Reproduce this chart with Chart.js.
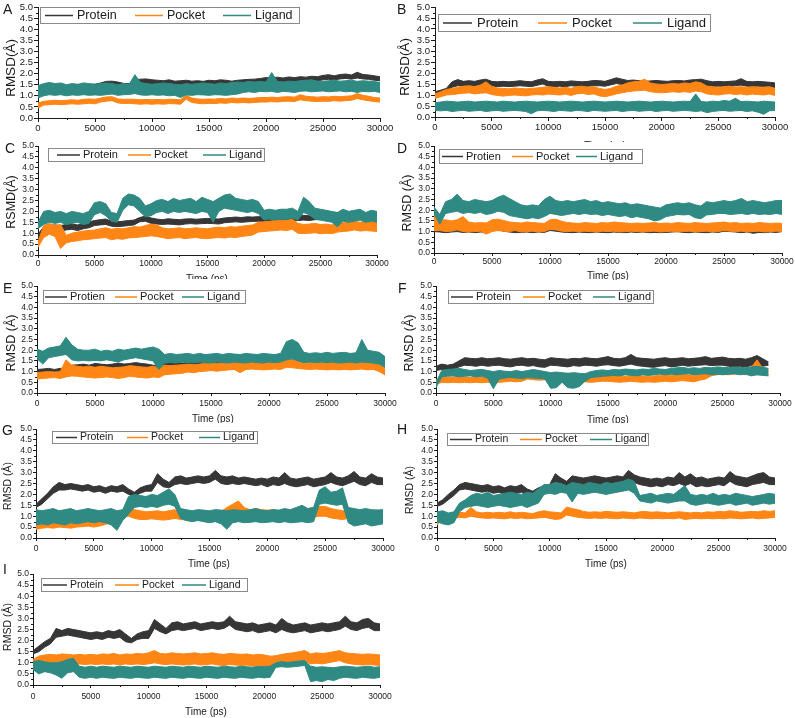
<!DOCTYPE html>
<html><head><meta charset="utf-8">
<script src="https://cdn.jsdelivr.net/npm/chart.js@4.4.0/dist/chart.umd.min.js"></script>
<style>
html,body{margin:0;padding:0;background:#fff;width:795px;height:718px;overflow:hidden;position:relative;}
canvas{position:absolute;}
</style></head><body>
<script>
// ---- data: upper / lower edge of each RMSD trace, read every TIME_STEP ps ----
const TIME_STEP = 500;
const X_TICKS = [0,5000,10000,15000,20000,25000,30000];
const Y_TICKS = [0,0.5,1,1.5,2,2.5,3,3.5,4,4.5,5];
const X_MINOR = [2500,7500,12500,17500,22500,27500];
const Y_MINOR = [0.25,0.75,1.25,1.75,2.25,2.75,3.25,3.75,4.25,4.75];
const SERIES = ['Protein','Pocket','Ligand'];

// Panel A
const A_PROTEIN_HI = [1.35,1.45,1.48,1.45,1.50,1.47,1.50,1.48,1.52,1.50, 1.52,1.58,1.65,1.66,1.62,1.56,1.55,1.72,1.75,1.76, 1.72,1.70,1.68,1.72,1.66,1.68,1.70,1.66,1.68,1.65, 1.70,1.68,1.72,1.70,1.66,1.70,1.72,1.74,1.75,1.78, 1.82,1.80,1.84,1.80,1.85,1.82,1.86,1.84,1.88,1.86, 1.92,1.95,1.90,1.96,1.98,1.94,2.06,1.96,1.94,1.90,1.86];
const A_PROTEIN_LO = [1.15,1.25,1.28,1.25,1.30,1.27,1.30,1.28,1.30,1.32, 1.35,1.40,1.48,1.46,1.42,1.36,1.38,1.50,1.55,1.56, 1.50,1.48,1.46,1.50,1.44,1.46,1.48,1.45,1.46,1.44, 1.48,1.46,1.50,1.48,1.45,1.50,1.52,1.54,1.55,1.58, 1.60,1.58,1.62,1.60,1.64,1.62,1.66,1.64,1.68,1.66, 1.72,1.74,1.72,1.76,1.78,1.75,1.80,1.76,1.74,1.70,1.68];
const A_POCKET_HI = [0.68,0.75,0.78,0.80,0.78,0.80,0.82,0.80,0.84,0.86, 0.84,0.90,0.95,0.96,0.86,0.84,0.85,0.84,0.82,0.84, 0.82,0.84,0.82,0.85,0.84,0.82,1.02,0.90,0.86,0.84, 0.86,0.85,0.88,0.86,0.90,0.88,0.90,0.88,0.90,0.92, 0.92,0.94,0.92,0.95,0.96,0.94,1.05,0.98,0.96,0.94, 0.96,0.95,0.98,0.96,0.98,1.00,1.10,1.02,0.98,0.92,0.90];
const A_POCKET_LO = [0.45,0.58,0.60,0.62,0.60,0.62,0.64,0.62,0.64,0.66, 0.64,0.72,0.76,0.78,0.68,0.65,0.66,0.64,0.62,0.64, 0.62,0.64,0.62,0.65,0.64,0.62,0.85,0.70,0.66,0.64, 0.66,0.65,0.68,0.66,0.70,0.68,0.70,0.68,0.70,0.72, 0.72,0.74,0.72,0.75,0.76,0.74,0.82,0.78,0.76,0.74, 0.76,0.75,0.78,0.76,0.78,0.80,0.88,0.82,0.78,0.74,0.72];
const A_LIGAND_HI = [1.45,1.55,1.60,1.55,1.58,1.50,1.55,1.52,1.58,1.55, 1.52,1.55,1.58,1.55,1.50,1.55,1.52,1.95,1.60,1.55, 1.52,1.55,1.58,1.55,1.52,1.50,1.55,1.52,1.55,1.58, 1.55,1.52,1.58,1.55,1.60,1.62,1.60,1.65,1.62,1.65, 1.62,2.05,1.65,1.62,1.66,1.64,1.68,1.70,1.72,1.66, 1.65,1.68,1.70,1.66,1.68,1.70,1.65,1.68,1.66,1.64,1.60];
const A_LIGAND_LO = [0.90,1.00,1.05,1.02,1.05,1.00,1.04,1.02,1.05,1.02, 1.04,1.02,1.05,1.08,1.02,1.05,1.06,1.10,1.04,1.02, 1.05,1.02,1.04,1.00,1.02,0.92,1.04,1.02,1.05,1.04, 1.02,1.05,1.04,1.02,1.05,1.08,1.15,1.18,1.15,1.20, 1.18,1.20,1.15,1.20,1.18,1.15,1.20,1.22,1.18,1.20, 1.22,1.18,1.20,1.22,1.18,1.20,1.15,1.20,1.18,1.20,1.15];

// Panel B
const B_PROTEIN_HI = [1.15,1.22,1.30,1.60,1.70,1.62,1.65,1.62,1.68,1.72, 1.62,1.60,1.62,1.60,1.62,1.65,1.62,1.60,1.68,1.74, 1.62,1.60,1.62,1.60,1.64,1.62,1.60,1.62,1.66,1.65, 1.62,1.70,1.78,1.72,1.66,1.68,1.65,1.62,1.64,1.66, 1.64,1.62,1.65,1.66,1.64,1.68,1.70,1.72,1.65,1.60, 1.62,1.60,1.62,1.64,1.74,1.62,1.60,1.62,1.60,1.58,1.55];
const B_PROTEIN_LO = [1.00,1.08,1.15,1.35,1.42,1.40,1.42,1.40,1.45,1.48, 1.40,1.38,1.40,1.38,1.40,1.42,1.40,1.38,1.44,1.50, 1.40,1.38,1.40,1.38,1.42,1.40,1.38,1.40,1.42,1.42, 1.40,1.46,1.52,1.48,1.44,1.45,1.42,1.40,1.42,1.44, 1.42,1.40,1.42,1.44,1.42,1.45,1.46,1.48,1.42,1.38, 1.40,1.38,1.40,1.42,1.45,1.40,1.38,1.40,1.38,1.36,1.34];
const B_POCKET_HI = [1.05,1.15,1.25,1.30,1.35,1.40,1.42,1.38,1.45,1.60, 1.40,1.32,1.30,1.28,1.32,1.30,1.28,1.30,1.32,1.35, 1.38,1.35,1.32,1.35,1.30,1.38,1.40,1.35,1.38,1.30, 1.25,1.30,1.40,1.45,1.55,1.60,1.62,1.72,1.55,1.50, 1.48,1.50,1.52,1.50,1.55,1.52,1.60,1.55,1.40,1.38, 1.35,1.38,1.40,1.36,1.38,1.35,1.38,1.36,1.35,1.38,1.30];
const B_POCKET_LO = [0.85,0.92,1.00,1.02,1.05,1.08,1.10,1.05,1.08,1.10, 1.02,0.98,0.95,0.98,1.00,0.98,0.96,1.00,1.02,1.00, 1.04,1.02,1.00,1.04,0.98,1.05,1.08,1.02,1.05,0.96, 0.92,0.98,1.05,1.10,1.15,1.18,1.20,1.22,1.15,1.12, 1.10,1.12,1.15,1.12,1.15,1.12,1.18,1.15,1.05,1.02, 1.00,1.04,1.06,1.02,1.05,1.00,1.04,1.02,1.00,1.04,0.98];
const B_LIGAND_HI = [0.65,0.68,0.72,0.70,0.68,0.70,0.72,0.68,0.70,0.72, 0.70,0.68,0.72,0.70,0.68,0.70,0.72,0.70,0.68,0.70, 0.72,0.70,0.68,0.70,0.72,0.70,0.68,0.70,0.72,0.70, 0.68,0.70,0.72,0.70,0.68,0.70,0.72,0.70,0.68,0.70, 0.72,0.70,0.68,0.70,0.72,0.70,1.05,0.70,0.68,0.72, 0.70,0.75,0.72,0.85,0.70,0.72,0.70,0.68,0.72,0.70,0.68];
const B_LIGAND_LO = [0.30,0.28,0.30,0.25,0.28,0.30,0.26,0.28,0.30,0.25, 0.28,0.30,0.26,0.28,0.30,0.28,0.25,0.15,0.28,0.30, 0.28,0.25,0.30,0.28,0.26,0.30,0.28,0.25,0.30,0.28, 0.26,0.28,0.30,0.25,0.28,0.30,0.26,0.28,0.30,0.25, 0.28,0.30,0.26,0.28,0.30,0.28,0.25,0.28,0.20,0.25, 0.28,0.30,0.26,0.28,0.30,0.25,0.28,0.22,0.12,0.28,0.30];

// Panel C
const C_PROTEIN_HI = [0.95,1.30,1.35,1.38,1.35,1.40,1.42,1.38,1.45,1.52, 1.58,1.62,1.65,1.55,1.52,1.55,1.58,1.60,1.72,1.78, 1.70,1.65,1.62,1.66,1.64,1.62,1.65,1.66,1.64,1.66, 1.68,1.66,1.65,1.70,1.72,1.74,1.72,1.75,1.74,1.76, 1.75,1.78,1.80,1.78,1.80,1.78,1.80,1.82,1.80,1.82, 1.85,1.84,1.90,1.95,1.92,1.98,1.94,1.96,1.92,1.95,1.95];
const C_PROTEIN_LO = [0.75,1.00,1.10,1.12,1.10,1.15,1.18,1.12,1.20,1.25, 1.35,1.38,1.40,1.32,1.30,1.32,1.35,1.38,1.52,1.55, 1.45,1.42,1.40,1.42,1.40,1.38,1.42,1.44,1.42,1.44, 1.45,1.44,1.42,1.48,1.50,1.52,1.50,1.52,1.54,1.55, 1.54,1.56,1.58,1.56,1.58,1.56,1.58,1.60,1.58,1.62, 1.62,1.64,1.72,1.75,1.72,1.78,1.74,1.76,1.72,1.75,1.74];
const C_POCKET_HI = [0.60,1.35,1.45,1.35,1.40,0.90,1.00,1.05,1.10,1.12, 1.15,1.20,1.25,1.18,1.22,1.20,1.25,1.30,1.28,1.35, 1.42,1.38,1.25,1.20,1.22,1.25,1.20,1.22,1.25,1.22, 1.20,1.25,1.28,1.25,1.30,1.28,1.32,1.35,1.38,1.50, 1.52,1.55,1.58,1.60,1.58,1.65,1.45,1.40,1.42,1.45, 1.40,1.42,1.38,1.45,1.48,1.52,1.55,1.50,1.55,1.52,1.50];
const C_POCKET_LO = [0.35,0.80,0.95,0.85,0.30,0.55,0.62,0.65,0.70,0.72, 0.75,0.78,0.80,0.70,0.75,0.72,0.78,0.80,0.82,0.85, 0.88,0.85,0.80,0.75,0.78,0.80,0.75,0.78,0.80,0.76, 0.75,0.78,0.80,0.78,0.82,0.80,0.85,0.88,0.92,1.05, 1.08,1.10,1.12,1.15,1.12,1.18,1.00,0.98,1.00,1.02, 0.98,1.00,0.98,1.05,1.08,1.10,1.15,1.10,1.12,1.10,1.08];
const C_LIGAND_HI = [1.50,2.00,2.05,1.95,2.00,1.90,2.00,1.95,1.90,2.00, 2.40,2.45,2.35,1.95,1.90,2.60,2.80,2.75,2.60,2.25, 2.35,2.50,2.55,2.45,2.60,2.50,2.55,2.60,2.45,2.65, 2.55,2.45,2.60,2.75,2.80,2.60,2.55,2.50,2.55,2.45, 2.05,2.10,2.05,2.10,2.10,2.15,2.00,2.65,2.45,2.15, 2.10,2.05,2.00,1.95,2.10,2.00,2.05,2.10,1.95,2.05,2.00];
const C_LIGAND_LO = [1.20,1.40,1.50,1.45,1.50,1.40,1.45,1.50,1.40,1.45, 1.85,1.95,1.80,1.55,1.50,2.05,2.30,2.25,2.00,1.75, 1.80,1.95,2.00,1.90,2.00,1.95,2.00,1.95,1.90,2.00, 1.95,1.50,2.00,2.15,2.10,2.05,2.00,1.95,2.00,1.90, 1.60,1.65,1.60,1.65,1.62,1.70,1.60,1.95,1.85,1.65, 1.60,1.55,1.50,1.30,1.55,1.50,1.55,1.60,1.50,1.55,1.50];

// Panel D
const D_PROTEIN_HI = [1.40,1.20,1.22,1.20,1.22,1.20,1.18,1.20,1.22,1.20, 1.30,1.32,1.28,1.22,1.20,1.18,1.20,1.18,1.20,1.22, 1.28,1.25,1.20,1.18,1.20,1.18,1.20,1.18,1.20,1.18, 1.20,1.18,1.20,1.18,1.20,1.22,1.20,1.18,1.20,1.18, 1.20,1.18,1.22,1.20,1.18,1.20,1.18,1.20,1.18,1.20, 1.25,1.22,1.20,1.18,1.20,1.18,1.20,1.18,1.20,1.18,1.18];
const D_PROTEIN_LO = [1.00,0.98,0.95,0.98,1.00,0.96,0.98,0.95,0.98,0.96, 1.05,1.08,1.02,0.98,0.95,0.96,0.98,0.95,0.98,0.96, 1.05,1.02,0.98,0.96,0.95,0.98,0.96,0.95,0.98,0.96, 0.95,0.98,0.96,0.95,0.98,0.96,0.98,0.95,0.96,0.95, 0.96,0.98,1.00,0.96,0.95,0.98,0.96,0.95,0.98,0.96, 1.02,1.00,0.98,0.95,0.98,0.92,0.96,0.95,0.98,0.96,1.00];
const D_POCKET_HI = [1.75,1.55,1.55,1.50,1.55,1.70,1.45,1.40,1.42,1.40, 1.55,1.58,1.52,1.45,1.42,1.40,1.45,1.42,1.40,1.38, 1.55,1.58,1.48,1.42,1.40,1.38,1.42,1.40,1.38,1.42, 1.40,1.45,1.42,1.40,1.38,1.40,1.38,1.40,1.42,1.38, 1.40,1.38,1.42,1.40,1.38,1.42,1.40,1.38,1.40,1.42, 1.45,1.40,1.42,1.38,1.40,1.38,1.42,1.40,1.38,1.40,1.38];
const D_POCKET_LO = [1.05,1.05,1.00,1.02,1.08,1.00,0.98,1.00,1.02,0.88, 1.00,1.05,1.02,1.00,1.05,0.98,1.00,1.02,0.98,1.00, 1.10,1.08,1.02,1.00,1.02,1.00,1.02,1.00,0.98,1.02, 1.00,1.02,0.98,1.00,1.02,1.00,0.98,1.00,1.02,0.98, 1.00,1.02,0.98,1.00,1.02,0.98,1.00,1.02,0.98,1.00, 1.05,1.02,1.00,1.02,0.98,1.00,1.02,0.98,1.00,1.02,1.00];
const D_LIGAND_HI = [2.15,1.80,2.40,2.50,2.75,2.45,2.40,2.50,2.45,2.40, 2.45,2.60,2.70,2.55,2.40,2.25,2.20,2.25,2.20,2.50, 2.65,2.45,2.40,2.45,2.40,2.45,2.50,2.40,2.45,2.35, 2.40,2.35,2.30,2.35,2.25,2.30,2.25,2.20,2.15,2.10, 2.25,2.30,2.35,2.30,2.35,2.25,2.20,2.40,2.35,2.40, 2.45,2.40,2.45,2.55,2.40,2.45,2.40,2.35,2.40,2.45,2.45];
const D_LIGAND_LO = [1.85,1.35,1.85,1.90,1.95,1.85,1.90,1.85,1.90,1.80, 1.85,1.95,1.90,1.75,1.70,1.65,1.60,1.65,1.60,1.70, 1.85,1.80,1.75,1.80,1.85,1.80,1.85,1.80,1.82,1.75, 1.80,1.75,1.70,1.75,1.65,1.70,1.65,1.60,1.50,1.55, 1.70,1.75,1.80,1.78,1.80,1.65,1.60,1.78,1.80,1.85, 1.85,1.80,1.82,1.85,1.80,1.85,1.80,1.82,1.80,1.85,1.80];

// Panel E
const E_PROTEIN_HI = [1.10,1.12,1.15,1.10,1.15,1.15,1.30,1.32,1.35,1.30, 1.38,1.35,1.32,1.35,1.40,1.35,1.38,1.42,1.38,1.35, 1.30,1.28,1.40,1.42,1.45,1.40,1.42,1.45,1.42,1.45, 1.45,1.48,1.45,1.50,1.48,1.50,1.45,1.50,1.52,1.48, 1.50,1.52,1.55,1.58,1.55,1.52,1.50,1.55,1.52,1.50, 1.52,1.50,1.55,1.50,1.48,1.52,1.55,1.60,1.50,1.45,1.35];
const E_PROTEIN_LO = [0.92,0.95,0.98,0.95,0.98,1.00,1.10,1.12,1.15,1.10, 1.15,1.12,1.10,1.12,1.18,1.12,1.15,1.20,1.15,1.12, 1.08,1.05,1.15,1.18,1.20,1.18,1.20,1.22,1.20,1.22, 1.22,1.25,1.22,1.28,1.25,1.28,1.22,1.28,1.30,1.25, 1.28,1.30,1.32,1.35,1.32,1.30,1.28,1.32,1.30,1.28, 1.30,1.28,1.32,1.28,1.25,1.30,1.32,1.35,1.28,1.22,1.10];
const E_POCKET_HI = [0.95,0.98,1.00,0.98,1.00,1.55,1.30,1.25,1.22,1.25, 1.20,1.25,1.22,1.18,1.20,1.22,1.28,1.25,1.22,1.20, 1.25,1.18,1.30,1.28,1.30,1.32,1.35,1.32,1.35,1.38, 1.40,1.38,1.40,1.42,1.45,1.42,1.48,1.45,1.45,1.42, 1.45,1.48,1.45,1.60,1.55,1.50,1.48,1.45,1.48,1.45, 1.42,1.45,1.40,1.45,1.42,1.45,1.48,1.42,1.45,1.40,1.30];
const E_POCKET_LO = [0.65,0.68,0.70,0.72,0.68,0.75,0.80,0.78,0.75,0.72, 0.70,0.72,0.75,0.72,0.68,0.72,0.78,0.75,0.72,0.70, 0.75,0.72,0.85,0.88,0.90,0.92,0.98,0.95,1.00,1.02, 1.05,1.02,1.05,1.08,1.10,0.95,1.10,1.12,1.10,1.08, 1.10,1.12,1.10,1.20,1.18,1.15,1.12,1.10,1.12,1.10, 1.08,1.10,1.08,1.10,1.08,1.10,1.12,1.08,1.10,1.00,0.85];
const E_LIGAND_HI = [2.05,1.95,2.10,2.15,2.20,2.60,2.25,2.05,2.00,2.00, 2.05,1.95,2.00,1.95,2.05,2.00,2.05,2.10,2.05,2.10, 2.15,2.05,1.80,1.85,1.80,1.82,1.85,1.80,1.85,1.80, 1.82,1.85,1.80,1.85,1.82,1.80,1.85,1.82,1.80,1.85, 1.82,1.80,1.85,2.40,2.50,2.35,1.90,1.85,1.88,1.85, 1.90,1.85,1.88,1.90,1.85,1.88,2.50,2.00,1.95,1.90,1.70];
const E_LIGAND_LO = [1.60,1.35,1.65,1.70,1.75,1.80,1.55,1.50,1.52,1.50, 1.52,1.50,1.55,1.50,1.45,1.55,1.60,1.65,1.60,1.55, 1.50,1.10,1.40,1.42,1.40,1.45,1.42,1.40,1.45,1.42, 1.40,1.45,1.42,1.40,1.45,1.42,1.40,1.45,1.42,1.40, 1.45,1.42,1.45,1.55,1.60,1.50,1.42,1.45,1.42,1.45, 1.42,1.45,1.40,1.42,1.45,1.40,1.45,1.42,1.40,1.35,1.20];

// Panel F (trajectory ends near 29000 ps)
const F_PROTEIN_HI = [1.25,1.35,1.30,1.35,1.50,1.65,1.62,1.60,1.65,1.60, 1.62,1.65,1.60,1.58,1.62,1.65,1.60,1.62,1.58,1.55, 1.65,1.62,1.60,1.58,1.62,1.60,1.65,1.62,1.60,1.65, 1.70,1.62,1.60,1.65,1.80,1.65,1.62,1.60,1.58,1.62, 1.65,1.60,1.62,1.65,1.60,1.62,1.65,1.70,1.62,1.65, 1.68,1.62,1.60,1.62,1.58,1.65,1.75,1.60,1.45];
const F_PROTEIN_LO = [1.05,1.10,1.08,1.10,1.22,1.30,1.28,1.25,1.30,1.25, 1.28,1.30,1.25,1.22,1.28,1.30,1.25,1.28,1.22,1.20, 1.30,1.28,1.25,1.22,1.28,1.25,1.30,1.28,1.25,1.30, 1.32,1.28,1.25,1.30,1.35,1.28,1.25,1.22,1.20,1.25, 1.28,1.22,1.25,1.30,1.25,1.28,1.30,1.32,1.28,1.30, 1.30,1.25,1.22,1.25,1.22,1.28,1.30,1.25,1.30];
const F_POCKET_HI = [0.60,0.75,0.72,0.75,0.72,0.75,0.72,0.75,0.72,0.75, 0.72,0.75,0.78,0.80,0.78,0.80,0.95,0.90,0.85,0.88, 0.85,0.88,0.90,0.92,0.88,0.82,0.80,0.78,0.80,0.82, 0.85,0.82,0.80,0.78,0.80,0.82,0.80,0.78,0.80,0.82, 0.85,0.82,0.85,0.88,0.85,0.82,0.90,0.95,1.05,1.15, 1.15,1.18,1.15,1.20,1.15,1.20,1.55,1.15,1.05];
const F_POCKET_LO = [0.40,0.50,0.48,0.50,0.48,0.50,0.48,0.50,0.48,0.50, 0.48,0.50,0.52,0.55,0.52,0.55,0.65,0.62,0.60,0.62, 0.60,0.62,0.65,0.62,0.60,0.55,0.52,0.50,0.52,0.55, 0.55,0.52,0.50,0.52,0.55,0.52,0.50,0.52,0.50,0.52, 0.55,0.52,0.55,0.58,0.55,0.52,0.60,0.65,0.80,0.85, 0.88,0.85,0.88,0.90,0.85,0.90,0.85,0.88,0.85];
const F_LIGAND_HI = [0.50,1.05,1.10,1.12,1.15,1.10,1.05,1.08,1.10,1.05, 1.00,1.05,1.02,1.00,1.05,1.00,1.05,1.10,1.05,1.00, 0.95,0.98,0.95,0.92,0.95,0.92,0.90,1.00,1.05,1.08, 1.05,1.10,1.08,1.12,1.10,1.08,1.12,1.10,1.15,1.12, 1.10,1.15,1.18,1.20,1.15,1.18,1.15,1.20,1.18,1.22, 1.20,1.18,1.22,1.20,1.18,1.22,1.25,1.20,1.15];
const F_LIGAND_LO = [0.25,0.75,0.78,0.80,0.75,0.78,0.80,0.75,0.78,0.70, 0.20,0.65,0.70,0.72,0.70,0.68,0.72,0.70,0.68,0.65, 0.22,0.25,0.50,0.25,0.22,0.30,0.55,0.72,0.75,0.78, 0.80,0.82,0.80,0.85,0.82,0.80,0.85,0.82,0.85,0.88, 0.85,0.88,0.85,0.88,0.90,0.85,0.88,0.90,0.85,0.88, 0.85,0.88,0.90,0.85,0.88,0.80,0.85,0.82,0.80];

// Panel G
const G_PROTEIN_HI = [1.55,1.80,2.05,2.35,2.55,2.45,2.50,2.45,2.40,2.45, 2.35,2.40,2.30,2.40,2.35,2.45,2.25,2.10,2.30,2.40, 2.45,2.95,2.70,2.55,2.80,2.85,2.75,2.80,2.85,2.80, 2.85,3.10,2.85,2.80,2.85,2.75,2.80,2.75,2.70,2.75, 2.70,2.80,2.75,3.00,2.75,2.70,2.75,2.80,2.70,2.75, 2.80,3.00,2.80,2.75,2.85,3.05,2.80,2.75,2.95,2.80,2.75];
const G_PROTEIN_LO = [1.40,1.55,1.80,2.05,2.20,2.20,2.25,2.20,2.15,2.20, 2.10,2.15,2.05,2.15,2.10,2.15,2.00,1.90,2.05,2.15, 2.15,2.55,2.35,2.30,2.45,2.50,2.45,2.50,2.55,2.50, 2.55,2.70,2.50,2.45,2.50,2.45,2.50,2.45,2.40,2.45, 2.35,2.45,2.40,2.50,2.40,2.35,2.40,2.45,2.35,2.40, 2.45,2.55,2.45,2.40,2.50,2.60,2.45,2.40,2.55,2.45,2.45];
const G_POCKET_HI = [0.65,0.75,0.72,0.70,0.75,0.72,0.70,0.75,0.78,0.80, 0.75,0.80,0.88,0.95,1.20,1.30,1.50,1.30,1.25,1.20, 1.22,1.25,1.20,1.25,1.30,1.15,1.20,1.22,1.20,1.18, 1.20,1.25,1.22,1.40,1.55,1.70,1.40,1.30,1.35,1.30, 1.28,1.30,1.25,1.30,1.28,1.32,1.30,1.35,1.40,1.45, 1.45,1.35,1.30,1.25,1.30,1.28,1.25,1.30,1.25,1.28,1.25];
const G_POCKET_LO = [0.40,0.45,0.48,0.45,0.50,0.48,0.45,0.50,0.52,0.55, 0.50,0.55,0.62,0.70,0.90,0.95,1.00,0.90,0.85,0.85, 0.88,0.85,0.82,0.85,0.90,0.85,0.82,0.85,0.82,0.80, 0.82,0.85,0.82,0.95,1.00,1.05,0.95,0.90,0.92,0.90, 0.88,0.92,0.90,0.92,0.90,0.95,0.92,0.95,0.95,1.00, 1.00,0.92,0.88,0.85,0.90,0.88,0.85,0.90,0.85,0.88,0.85];
const G_LIGAND_HI = [1.30,1.25,1.30,1.35,1.25,1.30,1.35,1.25,1.30,1.35, 1.30,1.25,1.30,1.35,1.25,1.30,1.90,2.00,1.95,1.90, 2.00,1.95,2.10,2.25,2.00,1.35,1.30,1.25,1.30,1.28, 1.25,1.30,1.28,1.25,1.30,1.28,1.25,1.30,1.35,1.28, 1.25,1.30,1.28,1.35,1.30,1.40,1.50,1.35,1.40,2.20, 2.35,2.10,2.15,2.30,1.40,1.35,1.30,1.35,1.30,1.28,1.30];
const G_LIGAND_LO = [0.60,0.65,0.60,0.70,0.65,0.60,0.70,0.65,0.70,0.75, 0.70,0.75,0.70,0.60,0.35,0.80,1.10,1.40,1.45,1.40, 1.45,1.40,1.50,1.55,1.45,0.90,0.80,0.75,0.80,0.75, 0.70,0.75,0.65,0.40,0.70,0.75,0.70,0.72,0.75,0.70, 0.72,0.75,0.70,0.75,0.70,0.72,0.75,0.70,0.75,1.55, 1.60,1.55,1.50,1.55,0.70,0.55,0.60,0.65,0.55,0.60,0.65];

// Panel H
const H_PROTEIN_HI = [1.60,1.75,2.00,2.20,2.45,2.55,2.50,2.45,2.40,2.45, 2.35,2.40,2.30,2.40,2.35,2.45,2.25,2.15,2.30,2.40, 2.45,2.95,2.75,2.60,2.85,2.80,2.75,2.80,2.85,2.80, 2.75,2.80,2.85,2.80,3.10,2.90,2.80,2.75,2.70,2.75, 2.70,2.80,2.75,3.00,2.80,2.95,2.75,2.80,2.70,2.75, 2.80,2.75,3.05,2.85,2.80,2.75,2.85,2.95,3.00,2.80,2.75];
const H_PROTEIN_LO = [1.45,1.55,1.75,1.95,2.20,2.25,2.20,2.15,2.10,2.15, 2.05,2.10,2.00,2.10,2.05,2.10,1.95,1.90,2.00,2.10, 2.15,2.55,2.40,2.30,2.45,2.45,2.40,2.45,2.50,2.45, 2.40,2.45,2.50,2.55,2.70,2.55,2.45,2.40,2.35,2.40, 2.35,2.45,2.40,2.50,2.40,2.50,2.35,2.40,2.35,2.40, 2.45,2.40,2.60,2.45,2.40,2.35,2.45,2.50,2.55,2.45,2.45];
const H_POCKET_HI = [1.00,1.05,1.10,1.15,1.18,1.15,1.40,1.20,1.15,1.18, 1.15,1.18,1.15,1.20,1.15,1.18,1.15,1.12,1.20,1.25, 1.20,1.18,1.15,1.42,1.35,1.30,1.22,1.18,1.20,1.18, 1.22,1.20,1.18,1.20,1.18,1.15,1.20,1.22,1.18,1.20, 1.18,1.15,1.18,1.20,1.18,1.15,1.18,1.15,1.20,1.18, 1.22,1.20,1.25,1.22,1.18,1.20,1.22,1.20,1.25,1.22,1.25];
const H_POCKET_LO = [0.60,0.85,0.88,0.90,0.95,0.92,1.00,0.95,0.92,0.90, 0.92,0.90,0.88,0.92,0.90,0.92,0.88,0.90,0.92,0.95, 0.90,0.85,0.88,1.05,1.00,0.95,0.92,0.90,0.92,0.90, 0.92,0.90,0.88,0.92,0.90,0.88,0.92,0.90,0.88,0.90, 0.88,0.90,0.88,0.92,0.85,0.88,0.90,0.88,0.90,0.88, 0.90,0.88,0.92,0.90,0.88,0.90,0.92,0.88,0.90,0.92,0.95];
const H_LIGAND_HI = [1.20,1.25,1.15,1.20,1.60,1.75,1.95,2.05,2.00,2.10, 1.95,2.00,2.05,2.10,2.05,2.00,2.10,2.05,2.25,2.45, 2.45,2.55,2.50,2.40,2.55,2.50,2.45,2.55,2.50,2.45, 2.55,2.50,2.55,2.60,2.70,2.60,1.95,2.00,2.05,1.95, 2.00,2.05,2.00,2.20,2.40,2.00,1.95,2.00,1.95,2.05, 1.95,2.00,1.95,2.05,2.00,1.95,1.90,1.95,2.00,2.05,2.00];
const H_LIGAND_LO = [0.75,0.65,0.60,0.70,1.20,1.40,1.45,1.50,1.45,1.40, 1.45,1.50,1.45,1.40,1.45,1.50,1.40,1.50,1.60,2.00, 2.05,2.00,2.10,2.05,1.65,2.05,2.00,2.05,2.10,2.05, 2.00,2.05,2.10,2.15,2.20,2.05,1.70,1.65,1.60,1.70, 1.65,1.60,1.65,1.70,1.70,1.55,1.50,1.55,1.60,1.55, 1.50,1.55,1.60,1.50,1.55,1.60,1.50,1.55,1.60,1.55,1.60];

// Panel I
const I_PROTEIN_HI = [1.55,1.75,1.95,2.10,2.55,2.45,2.55,2.50,2.45,2.40, 2.35,2.40,2.35,2.45,2.40,2.50,2.30,2.10,2.30,2.40, 2.45,2.95,2.75,2.55,2.80,2.85,2.75,2.80,2.85,2.75, 2.80,2.85,2.80,2.85,3.10,2.85,2.80,2.75,2.80,2.70, 2.75,2.80,2.70,3.00,2.80,2.70,2.75,2.80,2.70,2.75, 2.80,2.75,2.80,2.85,3.10,2.85,2.80,2.95,3.00,2.80,2.75];
const I_PROTEIN_LO = [1.40,1.50,1.70,1.85,2.15,2.20,2.25,2.20,2.15,2.10, 2.05,2.10,2.05,2.15,2.10,2.15,1.95,1.90,2.05,2.10, 2.10,2.55,2.40,2.30,2.45,2.50,2.45,2.50,2.55,2.45, 2.50,2.55,2.50,2.55,2.70,2.50,2.45,2.40,2.45,2.35, 2.40,2.45,2.35,2.50,2.40,2.35,2.40,2.45,2.35,2.40, 2.45,2.40,2.45,2.50,2.65,2.50,2.45,2.55,2.60,2.45,2.45];
const I_POCKET_HI = [1.15,1.30,1.35,1.38,1.35,1.40,1.38,1.35,1.38,1.35, 1.38,1.35,1.40,1.38,1.42,1.35,1.40,1.38,1.42,1.40, 1.45,1.55,1.42,1.40,1.45,1.42,1.40,1.42,1.45,1.40, 1.42,1.45,1.40,1.38,1.42,1.40,1.38,1.40,1.35,1.38, 1.35,1.30,1.32,1.38,1.42,1.45,1.50,1.55,1.40,1.45, 1.42,1.45,1.50,1.55,1.45,1.42,1.40,1.38,1.40,1.38,1.35];
const I_POCKET_LO = [0.70,0.90,0.92,0.95,0.90,0.95,0.92,0.90,0.95,0.92, 0.95,0.92,0.95,0.92,0.95,0.90,0.95,0.92,0.95,0.92, 0.95,1.00,0.95,0.92,0.95,0.92,0.90,0.92,0.95,0.90, 0.92,0.95,0.90,0.88,0.92,0.90,0.88,0.90,0.85,0.88, 0.85,0.82,0.85,0.95,1.00,1.05,1.08,1.10,0.95,0.98, 0.95,1.00,1.05,1.10,1.00,0.95,0.92,0.90,0.92,0.90,0.88];
const I_LIGAND_HI = [1.05,1.10,1.05,1.00,1.00,1.05,1.15,1.20,0.85,0.80, 0.85,0.80,0.85,0.82,0.80,0.85,0.82,0.80,0.85,0.82, 0.80,0.85,0.82,0.80,0.85,0.82,0.80,0.85,0.82,0.80, 0.85,0.82,0.80,0.85,0.82,0.80,0.85,0.82,0.80,0.85, 0.82,0.85,1.00,1.05,1.02,1.05,1.08,1.10,0.85,0.80, 0.82,0.80,0.78,0.82,0.85,0.82,0.80,0.82,0.85,0.80,0.82];
const I_LIGAND_LO = [0.70,0.50,0.60,0.55,0.45,0.30,0.55,0.60,0.35,0.30, 0.35,0.30,0.35,0.32,0.30,0.35,0.32,0.30,0.35,0.32, 0.30,0.35,0.32,0.30,0.35,0.32,0.30,0.35,0.32,0.30, 0.35,0.32,0.30,0.35,0.32,0.30,0.35,0.32,0.30,0.35, 0.32,0.35,0.80,0.82,0.80,0.82,0.85,0.88,0.15,0.20, 0.15,0.25,0.20,0.30,0.35,0.32,0.30,0.35,0.32,0.30,0.35];

const COLORS = ['#363636','#ff8514','#2e8a83'];
const FONT = "'Liberation Sans', Arial, Helvetica, sans-serif";
const INK = '#1a1a1a';

// ---- layout of the nine panels (page pixels) ----
const PANELS = [
 {letter:'A', lp:[3,14], canvas:[0,0,405,136], plot:[38,7,380,118], tickFs:9.5, tl:4, xPad:1,
  yTitle:'RMSD(Å)', yFs:13.5, yPos:[11,68], xTitle:null,
  labels:['Protein','Pocket','Ligand'],
  hi:[A_PROTEIN_HI,A_POCKET_HI,A_LIGAND_HI], lo:[A_PROTEIN_LO,A_POCKET_LO,A_LIGAND_LO],
  legend:{box:[40,7,259,16], fs:12.5, line:28, gap:4, starts:[45,135,223]}},
 {letter:'B', lp:[397,14], canvas:[395,0,400,142], plot:[435,7,775,117], tickFs:9.5, tl:4, xPad:1,
  yTitle:'RMSD(Å)', yFs:13.5, yPos:[405,67], xTitle:[605,146],
  labels:['Protein','Pocket','Ligand'],
  hi:[B_PROTEIN_HI,B_POCKET_HI,B_LIGAND_HI], lo:[B_PROTEIN_LO,B_POCKET_LO,B_LIGAND_LO],
  legend:{box:[438,14,272,17], fs:13, line:29, gap:5, starts:[443,538,633]}},
 {letter:'C', lp:[5,153], canvas:[0,135,405,144], plot:[38,146,377,255], tickFs:8.5, tl:3, xPad:1,
  yTitle:'RSMD(Å)', yFs:12.5, yPos:[12,202], xTitle:[207,279],
  labels:['Protein','Pocket','Ligand'],
  hi:[C_PROTEIN_HI,C_POCKET_HI,C_LIGAND_HI], lo:[C_PROTEIN_LO,C_POCKET_LO,C_LIGAND_LO],
  legend:{box:[48,148,216,13], fs:11, line:23, gap:3, starts:[57,128,203]}},
 {letter:'D', lp:[397,153], canvas:[395,135,400,145], plot:[434,146,782,253], tickFs:8.5, tl:3, xPad:1,
  yTitle:'RMSD (Å)', yFs:12.5, yPos:[408,203], xTitle:[608,276],
  labels:['Protien','Pocket','Ligand'],
  hi:[D_PROTEIN_HI,D_POCKET_HI,D_LIGAND_HI], lo:[D_PROTEIN_LO,D_POCKET_LO,D_LIGAND_LO],
  legend:{box:[439,149,203,14], fs:11, line:21, gap:3, starts:[442,512,576]}},
 {letter:'E', lp:[3,293], canvas:[0,275,405,148], plot:[37,286,385,393], tickFs:8.5, tl:3, xPad:3,
  yTitle:'RMSD (Å)', yFs:12.5, yPos:[12,343], xTitle:[213,419],
  labels:['Protien','Pocket','Ligand'],
  hi:[E_PROTEIN_HI,E_POCKET_HI,E_LIGAND_HI], lo:[E_PROTEIN_LO,E_POCKET_LO,E_LIGAND_LO],
  legend:{box:[43,290,202,13], fs:11, line:22, gap:3, starts:[45,115,182]}},
 {letter:'F', lp:[398,293], canvas:[395,275,400,148], plot:[436,286,780,393], tickFs:8.5, tl:3, xPad:3,
  yTitle:'RMSD (Å)', yFs:12.5, yPos:[410,343], xTitle:[608,420],
  labels:['Protein','Pocket','Ligand'],
  hi:[F_PROTEIN_HI,F_POCKET_HI,F_LIGAND_HI], lo:[F_PROTEIN_LO,F_POCKET_LO,F_LIGAND_LO],
  legend:{box:[448,290,205,13], fs:11, line:22, gap:3, starts:[451,523,593]}},
 {letter:'G', lp:[2,435], canvas:[0,415,405,155], plot:[36,429,383,538], tickFs:8.5, tl:3, xPad:2.5,
  yTitle:'RMSD (Å)', yFs:10.5, yPos:[8,486], xTitle:[209,564],
  labels:['Protein','Pocket','Ligand'],
  hi:[G_PROTEIN_HI,G_POCKET_HI,G_LIGAND_HI], lo:[G_PROTEIN_LO,G_POCKET_LO,G_LIGAND_LO],
  legend:{box:[52,431,205,12], fs:10.5, line:21, gap:3, starts:[56,127,199]}},
 {letter:'H', lp:[397,434], canvas:[395,415,400,155], plot:[437,429,775,538], tickFs:8.5, tl:3, xPad:2.5,
  yTitle:'RMSD (Å)', yFs:10.5, yPos:[410,490], xTitle:[606,564],
  labels:['Protein','Pocket','Ligand'],
  hi:[H_PROTEIN_HI,H_POCKET_HI,H_LIGAND_HI], lo:[H_PROTEIN_LO,H_POCKET_LO,H_LIGAND_LO],
  legend:{box:[447,433,201,12], fs:10.5, line:22, gap:3, starts:[450,520,590]}},
 {letter:'I', lp:[3,574], canvas:[0,560,405,158], plot:[33,574,380,685], tickFs:8.5, tl:3, xPad:4,
  yTitle:'RMSD (Å)', yFs:10.5, yPos:[8,627], xTitle:[206,712],
  labels:['Protein','Pocket','Ligand'],
  hi:[I_PROTEIN_HI,I_POCKET_HI,I_LIGAND_HI], lo:[I_PROTEIN_LO,I_POCKET_LO,I_LIGAND_LO],
  legend:{box:[41,578,206,13], fs:10.5, line:24, gap:3, starts:[43,115,182]}}
];

const decoPlugin = {
  id:'deco',
  afterDraw(chart){
    const p = chart.options.plugins.deco.panel;
    const ctx = chart.ctx, ox = p.canvas[0], oy = p.canvas[1];
    const xs = chart.scales.x, ys = chart.scales.y, area = chart.chartArea;
    ctx.save();
    ctx.strokeStyle = INK; ctx.lineWidth = 1;
    ctx.beginPath();
    X_MINOR.forEach(v=>{const px=Math.round(xs.getPixelForValue(v))+0.5; ctx.moveTo(px,area.bottom); ctx.lineTo(px,area.bottom+2);});
    Y_MINOR.forEach(v=>{const py=Math.round(ys.getPixelForValue(v))+0.5; ctx.moveTo(area.left,py); ctx.lineTo(area.left-2,py);});
    ctx.stroke();
    ctx.fillStyle = INK;
    ctx.font = `14px ${FONT}`; ctx.textAlign='left'; ctx.textBaseline='alphabetic';
    ctx.fillText(p.letter, p.lp[0]-ox, p.lp[1]-oy);
    ctx.save();
    ctx.translate(p.yPos[0]-ox, p.yPos[1]-oy); ctx.rotate(-Math.PI/2);
    ctx.font = `${p.yFs}px ${FONT}`; ctx.textAlign='center'; ctx.textBaseline='middle';
    ctx.fillText(p.yTitle,0,0);
    ctx.restore();
    if(p.xTitle){
      ctx.font = `10px ${FONT}`; ctx.textAlign='center'; ctx.textBaseline='middle';
      ctx.fillText('Time (ps)', p.xTitle[0]-ox, p.xTitle[1]-oy);
    }
    const lg = p.legend, [bx,by,bw,bh] = lg.box;
    ctx.fillStyle='#fff';
    ctx.fillRect(bx-ox, by-oy, bw, bh);
    ctx.strokeStyle='#8a8a8a'; ctx.lineWidth=1;
    ctx.strokeRect(bx-ox+0.5, by-oy+0.5, bw, bh);
    const cyy = by-oy+bh/2+0.5;
    SERIES.forEach((s,k)=>{
      const sx = lg.starts[k]-ox;
      ctx.strokeStyle = COLORS[k]; ctx.lineWidth = 1.5;
      ctx.beginPath(); ctx.moveTo(sx, cyy); ctx.lineTo(sx+lg.line, cyy); ctx.stroke();
      ctx.fillStyle = INK; ctx.font = `${lg.fs}px ${FONT}`; ctx.textAlign='left'; ctx.textBaseline='middle';
      ctx.fillText(p.labels[k], sx+lg.line+lg.gap, cyy);
    });
    ctx.restore();
  }
};

function toXY(vals){ return vals.map((v,i)=>({x:i*TIME_STEP, y:v})); }

PANELS.forEach(p=>{
  const [cx,cy,cw,ch] = p.canvas, [L,T,R,B] = p.plot;
  const c = document.createElement('canvas');
  c.width=cw; c.height=ch;
  c.style.left=cx+'px'; c.style.top=cy+'px'; c.style.width=cw+'px'; c.style.height=ch+'px';
  document.body.appendChild(c);
  const datasets = [];
  SERIES.forEach((s,k)=>{
    datasets.push({label:p.labels[k], data:toXY(p.hi[k]), borderColor:COLORS[k], backgroundColor:COLORS[k],
      borderWidth:1, pointRadius:0, tension:0, fill:'+1', order:6-2*k});
    datasets.push({label:p.labels[k]+' (lower)', data:toXY(p.lo[k]), borderColor:COLORS[k], backgroundColor:COLORS[k],
      borderWidth:1, pointRadius:0, tension:0, fill:false, order:5-2*k});
  });
  new Chart(c,{
    type:'line',
    data:{datasets},
    options:{
      responsive:false, animation:false, devicePixelRatio:1,
      layout:{padding:{left:0, top:T-cy, right:cx+cw-R, bottom:0}},
      plugins:{legend:{display:false}, tooltip:{enabled:false}, filler:{propagate:false}, deco:{panel:p}},
      scales:{
        x:{type:'linear', min:0, max:30000,
          afterBuildTicks:s=>{s.ticks = X_TICKS.map(v=>({value:v}));},
          afterFit:s=>{s.height = cy+ch-B;},
          ticks:{autoSkip:false, maxRotation:0, color:INK, padding:p.xPad, font:{family:FONT, size:p.tickFs}, callback:v=>String(v)},
          grid:{drawOnChartArea:false, drawTicks:true, tickLength:p.tl, color:INK},
          border:{display:true, color:INK, width:1}},
        y:{type:'linear', min:0, max:5,
          afterBuildTicks:s=>{s.ticks = Y_TICKS.map(v=>({value:v}));},
          afterFit:s=>{s.width = L-cx;},
          ticks:{autoSkip:false, color:INK, padding:1, font:{family:FONT, size:p.tickFs}, callback:v=>Number(v).toFixed(1)},
          grid:{drawOnChartArea:false, drawTicks:true, tickLength:p.tl, color:INK},
          border:{display:true, color:INK, width:1}}
      }
    },
    plugins:[decoPlugin]
  });
});
</script>
</body></html>
